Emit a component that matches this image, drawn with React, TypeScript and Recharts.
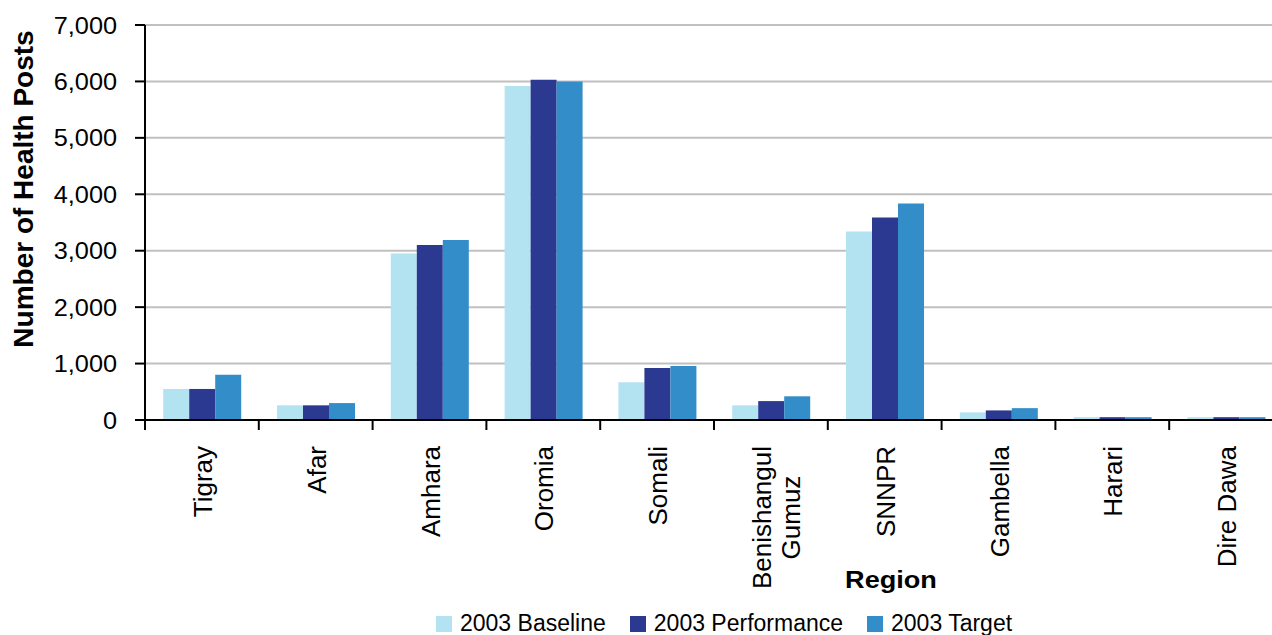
import React from 'react';
import { BarChart, Bar, XAxis, YAxis, CartesianGrid, Legend } from 'recharts';

// ---- Data ----
const regions = [
  'Tigray',
  'Afar',
  'Amhara',
  'Oromia',
  'Somali',
  'Benishangul\nGumuz',
  'SNNPR',
  'Gambella',
  'Harari',
  'Dire Dawa',
];
const baseline2003 = [550, 260, 2950, 5920, 670, 260, 3340, 135, 50, 50];
const performance2003 = [550, 260, 3100, 6030, 920, 335, 3590, 170, 50, 50];
const target2003 = [800, 300, 3190, 6000, 955, 420, 3835, 210, 50, 50];
const seriesKeys = ['baseline', 'performance', 'target'];
const seriesNames = ['2003 Baseline', '2003 Performance', '2003 Target'];
const seriesColors = ['#b3e2f1', '#2b3990', '#338dc9'];
const yTicks = [0, 1000, 2000, 3000, 4000, 5000, 6000, 7000];
const xAxisTitle = 'Region';
const yAxisTitle = 'Number of Health Posts';

const data = regions.map((r, i) => ({
  region: r,
  baseline: baseline2003[i],
  performance: performance2003[i],
  target: target2003[i],
}));

// ---- Layout ----
const CHART_W = 1290;
const CHART_H = 635;
const MARGIN = { top: 25, right: 7, left: 0, bottom: 0 };
const YAXIS_W = 145;
const XAXIS_H = 192;
const BAND = (CHART_W - MARGIN.right - MARGIN.left - YAXIS_W) / regions.length;
const FONT = "'Liberation Sans', Arial, Helvetica, sans-serif";

let measureCtx: CanvasRenderingContext2D | null = null;
const measure = (txt: string, size: number) => {
  if (!measureCtx) {
    const c = document.createElement('canvas');
    measureCtx = c.getContext('2d');
  }
  if (!measureCtx) return txt.length * size * 0.55;
  measureCtx.font = `${size}px ${FONT}`;
  return measureCtx.measureText(txt).width;
};

const XTick = (props: any) => {
  const { x, y, payload, index } = props;
  const lines = String(payload.value).split('\n');
  const fs = 26;
  const maxW = Math.max(...lines.map((l) => measure(l, fs)));
  const along = y + 26 + maxW / 2;
  const n = lines.length;
  return (
    <g>
      <line x1={x - BAND / 2} y1={y} x2={x - BAND / 2} y2={y + 10} stroke="#000" strokeWidth={2} />
      {index === regions.length - 1 && (
        <line x1={x + BAND / 2} y1={y} x2={x + BAND / 2} y2={y + 10} stroke="#000" strokeWidth={2} />
      )}
      {lines.map((ln, i) => {
        const bx = x + 10 - (n - 1) * 10 + i * 29;
        return (
          <text
            key={i}
            transform={`translate(${bx},${along}) rotate(-90)`}
            textAnchor="middle"
            fontSize={fs}
            fontFamily={FONT}
            fill="#000"
          >
            {ln}
          </text>
        );
      })}
    </g>
  );
};

const YTick = (props: any) => {
  const { x, y, payload } = props;
  return (
    <text
      transform={`translate(${x},${y}) scale(1.1,1)`}
      textAnchor="end"
      dy={8.5}
      fontSize={23}
      fontFamily={FONT}
      fill="#000"
    >
      {Number(payload.value).toLocaleString('en-US')}
    </text>
  );
};

const YLabel = (props: any) => {
  const vb = props.viewBox || { x: 0, y: 0, height: 0 };
  const cx = vb.x + 33;
  const cy = 189;
  return (
    <text
      transform={`translate(${cx},${cy}) rotate(-90)`}
      textAnchor="middle"
      fontSize={28}
      fontWeight="bold"
      fontFamily={FONT}
      fill="#000"
    >
      {yAxisTitle}
    </text>
  );
};

const XLabel = (props: any) => {
  const vb = props.viewBox || { x: 0, y: 0 };
  const cx = vb.x + 746;
  const cy = vb.y + 168;
  return (
    <text
      transform={`translate(${cx},${cy}) scale(1.13,1)`}
      textAnchor="middle"
      fontSize={24}
      fontWeight="bold"
      fontFamily={FONT}
      fill="#000"
    >
      {xAxisTitle}
    </text>
  );
};

const LegendContent = (props: any) => {
  const payload = props.payload && props.payload.length ? props.payload : seriesNames.map((n, i) => ({ value: n, color: seriesColors[i] }));
  return (
    <div style={{ display: 'flex', alignItems: 'center', fontFamily: FONT, fontSize: 23, lineHeight: '23px', height: 23, whiteSpace: 'nowrap', color: '#000' }}>
      {payload.map((p: any, i: number) => (
        <div key={i} style={{ display: 'flex', alignItems: 'center', marginRight: i < payload.length - 1 ? 24 : 0 }}>
          <span style={{ display: 'inline-block', width: 16, height: 16, background: p.color, marginRight: 8 }} />
          <span>{p.value}</span>
        </div>
      ))}
    </div>
  );
};

export default function App() {
  return (
    <div style={{ position: 'absolute', left: 0, top: 0, width: 1272, height: 635, overflow: 'hidden', background: '#fff', fontFamily: FONT }}>
      <BarChart
        width={CHART_W}
        height={CHART_H}
        data={data}
        margin={MARGIN}
        barCategoryGap="16%"
        barGap={0}
      >
        <CartesianGrid vertical={false} stroke="#c0c0c0" strokeWidth={2} />
        <XAxis
          dataKey="region"
          height={XAXIS_H}
          interval={0}
          tick={<XTick />}
          tickLine={false}
          tickSize={0}
          tickMargin={0}
          axisLine={{ stroke: '#000', strokeWidth: 2 }}
          label={<XLabel />}
        />
        <YAxis
          width={YAXIS_W}
          domain={[0, 7000]}
          ticks={yTicks}
          interval={0}
          tick={<YTick />}
          tickSize={10}
          tickMargin={18}
          tickLine={{ stroke: '#000', strokeWidth: 2 }}
          axisLine={{ stroke: '#000', strokeWidth: 2 }}
          label={<YLabel />}
        />
        <Legend
          layout="vertical"
          align="center"
          verticalAlign="bottom"
          content={<LegendContent />}
          wrapperStyle={{ left: 436, top: 612, width: 'auto', height: 23, bottom: 'auto' }}
        />
        {seriesKeys.map((k, i) => (
          <Bar key={k} dataKey={k} name={seriesNames[i]} fill={seriesColors[i]} isAnimationActive={false} />
        ))}
      </BarChart>
    </div>
  );
}
